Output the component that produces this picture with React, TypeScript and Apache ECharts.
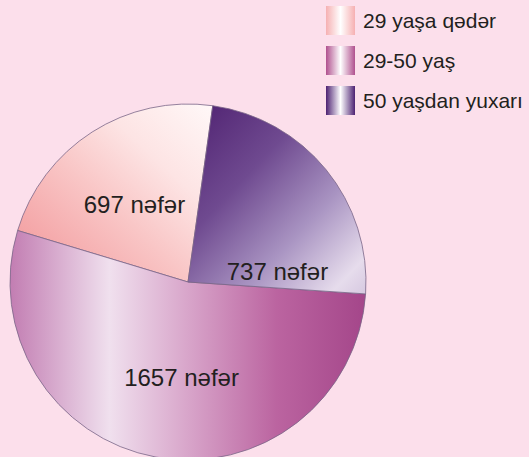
import React, { useEffect, useRef } from "react";
import * as echarts from "echarts";

const categories = ["29 yaşa qədər", "29-50 yaş", "50 yaşdan yuxarı"];
const values = [697, 1657, 737];
const unit = "nəfər";

const sliceGradients = [
  new echarts.graphic.LinearGradient(1, 0, 0, 1, [
    { offset: 0, color: "#fff8f8" },
    { offset: 0.3, color: "#fde4e4" },
    { offset: 0.55, color: "#f9c6c6" },
    { offset: 0.85, color: "#f4a4a6" },
    { offset: 1, color: "#f2aab0" },
  ]),
  new echarts.graphic.LinearGradient(0, 0, 1, 0, [
    { offset: 0, color: "#c27db2" },
    { offset: 0.28, color: "#f0e0ee" },
    { offset: 0.5, color: "#d8a5ca" },
    { offset: 0.75, color: "#bb64a0" },
    { offset: 1, color: "#a4468a" },
  ]),
  new echarts.graphic.LinearGradient(0, 0, 1, 1, [
    { offset: 0, color: "#4e2070" },
    { offset: 0.35, color: "#6f4a90" },
    { offset: 0.65, color: "#a994c2" },
    { offset: 0.9, color: "#e6dcec" },
    { offset: 1, color: "#d6c8e0" },
  ]),
];

const legendEdge = ["#f6b0b2", "#b0508e", "#4d2172"];

const labelShift = [
  [-4, 0],
  [10, 5],
  [18, 47],
];

export default function App() {
  const ref = useRef<HTMLDivElement>(null);
  useEffect(() => {
    if (!ref.current) return;
    const chart = echarts.init(ref.current, undefined, { renderer: "svg" });
    chart.setOption({
      animation: false,
      backgroundColor: "#fcdfeb",
      legend: {
        orient: "vertical",
        left: 326,
        top: 6,
        padding: 0,
        itemWidth: 29,
        itemHeight: 29,
        itemGap: 11,
        icon: "rect",
        selectedMode: false,
        textStyle: {
          fontSize: 21,
          color: "#231f20",
          fontFamily: "Liberation Sans, Arial, sans-serif",
          padding: [0, 0, 0, 3],
        },
        data: categories.map((name, i) => ({
          name,
          itemStyle: {
            borderWidth: 0,
            color: new echarts.graphic.LinearGradient(0, 0, 1, 0, [
              { offset: 0, color: legendEdge[i] },
              { offset: 0.5, color: "#ffffff" },
              { offset: 1, color: legendEdge[i] },
            ]),
          },
        })),
      },
      series: [
        {
          type: "pie",
          center: [188, 282],
          radius: 178,
          startAngle: 82,
          clockwise: false,
          silent: true,
          emphasis: { disabled: true },
          itemStyle: { borderColor: "#7a6688", borderWidth: 0.8 },
          label: {
            show: true,
            position: "inside",
            formatter: (p: any) => `${p.value} ${unit}`,
            fontSize: 24,
            color: "#231f20",
            fontFamily: "Liberation Sans, Arial, sans-serif",
          },
          labelLine: { show: false },
          labelLayout: (p: any) => ({
            dx: labelShift[p.dataIndex][0],
            dy: labelShift[p.dataIndex][1],
          }),
          data: categories.map((name, i) => ({
            name,
            value: values[i],
            itemStyle: { color: sliceGradients[i] },
          })),
        },
      ],
    });
    return () => chart.dispose();
  }, []);
  return (
    <div
      ref={ref}
      style={{ position: "fixed", left: 0, top: 0, width: 529, height: 457 }}
    />
  );
}
